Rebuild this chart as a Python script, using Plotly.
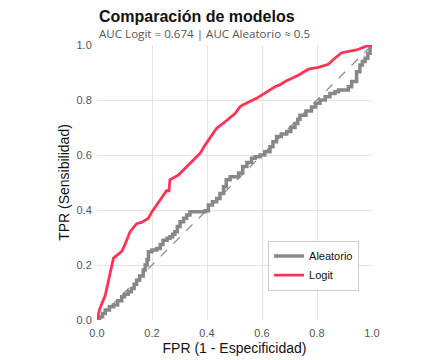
import plotly.graph_objects as go

# Logit ROC curve points
logit_fpr = [0.0, 0.01, 0.03, 0.06, 0.09, 0.10, 0.12, 0.144, 0.162, 0.187, 0.2, 0.225, 0.253, 0.262, 0.265,
             0.296, 0.338, 0.375, 0.393, 0.435, 0.465, 0.502, 0.52, 0.53, 0.58, 0.61, 0.647, 0.665, 0.684,
             0.732, 0.769, 0.805, 0.841, 0.865, 0.89, 0.944, 0.98, 1.0]
logit_tpr = [0.0, 0.04, 0.09, 0.225, 0.25, 0.27, 0.32, 0.35, 0.355, 0.37, 0.394, 0.43, 0.47, 0.47, 0.51,
             0.527, 0.57, 0.606, 0.636, 0.697, 0.72, 0.751, 0.775, 0.782, 0.806, 0.826, 0.848, 0.855, 0.867,
             0.89, 0.912, 0.919, 0.93, 0.952, 0.972, 0.982, 0.996, 1.0]

# Random (Aleatorio) ROC step curve points
rand_fpr = [0.0, 0.01, 0.02, 0.03, 0.045, 0.06, 0.075, 0.09, 0.10, 0.114, 0.125, 0.135, 0.144, 0.155, 0.168,
            0.175, 0.182, 0.187, 0.2, 0.217, 0.23, 0.24, 0.255, 0.265, 0.275, 0.283, 0.292, 0.302, 0.315,
            0.326, 0.338, 0.393, 0.405, 0.42, 0.435, 0.447, 0.46, 0.47, 0.484, 0.507, 0.515, 0.53, 0.545,
            0.562, 0.575, 0.593, 0.61, 0.629, 0.64, 0.653, 0.67, 0.69, 0.705, 0.72, 0.73, 0.738, 0.76,
            0.78, 0.795, 0.811, 0.83, 0.847, 0.865, 0.878, 0.914, 0.926, 0.938, 0.944, 0.956, 0.965, 0.975,
            0.985, 0.993, 1.0]
rand_tpr = [0.0, 0.012, 0.024, 0.036, 0.048, 0.055, 0.07, 0.085, 0.094, 0.103, 0.115, 0.13, 0.145, 0.16, 0.182,
            0.2, 0.22, 0.248, 0.255, 0.26, 0.275, 0.29, 0.297, 0.303, 0.312, 0.321, 0.34, 0.357, 0.37,
            0.382, 0.394, 0.397, 0.418, 0.43, 0.442, 0.46, 0.485, 0.51, 0.521, 0.521, 0.535, 0.558, 0.573,
            0.588, 0.594, 0.6, 0.612, 0.63, 0.648, 0.667, 0.676, 0.685, 0.7, 0.715, 0.73, 0.745, 0.76,
            0.775, 0.788, 0.8, 0.812, 0.824, 0.83, 0.836, 0.848, 0.867, 0.867, 0.903, 0.927, 0.94, 0.952,
            0.97, 0.994, 1.0]

diag = [0.0, 1.0]
tick_vals = [0.0, 0.2, 0.4, 0.6, 0.8, 1.0]
tick_text = ["0.0", "0.2", "0.4", "0.6", "0.8", "1.0"]

title_text = "Comparación de modelos"
subtitle_text = "AUC Logit = 0.674 | AUC Aleatorio ≈ 0.5"

fig = go.Figure()
fig.add_trace(go.Scatter(x=diag, y=diag, mode="lines", showlegend=False, hoverinfo="skip",
                         line=dict(color="#8c8c8c", width=1.3, dash="dash")))
fig.add_trace(go.Scatter(x=rand_fpr, y=rand_tpr, mode="lines", name="Aleatorio",
                         line=dict(color="#888888", width=3.5, shape="hv")))
fig.add_trace(go.Scatter(x=logit_fpr, y=logit_tpr, mode="lines", name="Logit",
                         line=dict(color="#ff3355", width=2.8)))

tickfont = dict(family="Liberation Sans, Arial", size=11, color="#555555")
axis_common = dict(range=[0, 1], tickvals=tick_vals, ticktext=tick_text, showgrid=True,
                   gridcolor="#e3e3e3", gridwidth=1, zeroline=False, showline=False,
                   tickfont=tickfont, ticks="outside", tickcolor="rgba(0,0,0,0)")

fig.update_layout(
    width=432, height=360,
    margin=dict(l=89, r=68, t=37, b=48, autoexpand=False),
    plot_bgcolor="white", paper_bgcolor="white",
    xaxis=dict(**axis_common, ticklen=3, title=dict(text="FPR (1 - Especificidad)", standoff=4,
               font=dict(family="Liberation Sans, Arial", size=14, color="#111111"))),
    yaxis=dict(**axis_common, ticklen=2, title=dict(text="TPR (Sensibilidad)", standoff=3,
               font=dict(family="Liberation Sans, Arial", size=14, color="#111111"))),
    legend=dict(x=0.622, y=0.198, xanchor="left", yanchor="middle", bgcolor="white",
                bordercolor="#cccccc", borderwidth=1,
                font=dict(family="Liberation Sans, Arial", size=11, color="#111111"),
                traceorder="normal"),
    annotations=[
        dict(text="<b>" + title_text + "</b>", xref="paper", yref="paper", x=0, y=1.1035,
             xanchor="left", yanchor="middle", showarrow=False,
             font=dict(family="Liberation Sans, Arial", size=16, color="#111111")),
        dict(text=subtitle_text, xref="paper", yref="paper", x=0, y=1.0434,
             xanchor="left", yanchor="middle", showarrow=False,
             font=dict(family="Open Sans", size=11.6, color="#555555")),
    ],
)

fig.write_html("out.html")
